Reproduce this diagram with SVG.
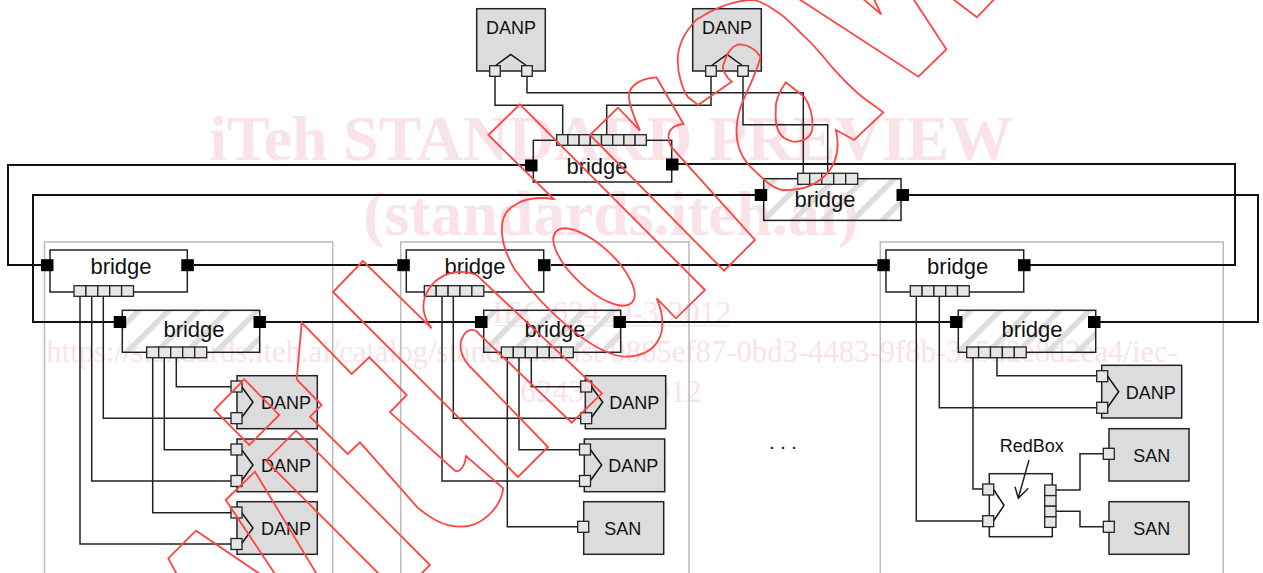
<svg xmlns="http://www.w3.org/2000/svg" width="1263" height="573" viewBox="0 0 1263 573">
<style>
text{font-family:"Liberation Sans",Arial,sans-serif;fill:#111;text-anchor:middle}
.wm text,.wm1,.wm2,.wm3{font-family:"Liberation Serif","Times New Roman",serif;fill:#f9e3e9}
.wm1{font-weight:bold;font-size:63.7px}
.wm2{font-size:30.7px}
.wm3{font-size:32px}
.fr{fill:none;stroke:#bbb;stroke-width:1.5}
.br{fill:none;stroke:#222;stroke-width:1.5}
.ht{fill:url(#hatch);stroke:#222;stroke-width:1.5}
.de{fill:#dcdcdc;stroke:#222;stroke-width:1.5}
.p{fill:#e6e6e6;stroke:#222;stroke-width:1.3}
.k{fill:#000}
.ch{fill:none;stroke:#111;stroke-width:1.5}
.c{fill:none;stroke:#222;stroke-width:1.5}
.r{fill:none;stroke:#111;stroke-width:2}
.w{fill:none;stroke:#f44;stroke-width:1.8;stroke-linejoin:miter}
.b{font-size:22px}
.t{font-size:18px}
</style>
<defs>
<pattern id="hatch" patternUnits="userSpaceOnUse" width="21" height="21" patternTransform="rotate(45)">
<rect x="0" y="0" width="5.5" height="21" fill="#ddd"/>
</pattern>
</defs>

<g class="wm" id="watermark">
<text class="wm1" x="611" y="160">iTeh STANDARD PREVIEW</text>
<text class="wm1" x="611" y="235">(standards.iteh.ai)</text>
<text class="wm3" x="612" y="323">IEC 62439-3:2012</text>
<rect x="495" y="325" width="234" height="1.5" fill="#f9e3e9"/>
<text class="wm2" x="612" y="362">https://standards.iteh.ai/catalog/standards/sist/0865ef87-0bd3-4483-9f8b-3a5d2e8d2ea4/iec-</text>
<text class="wm3" x="611" y="402">62439-3-2012</text>
</g>

<g id="frames">
<path class="fr" d="M44.5,573V242H332.7V573"/>
<path class="fr" d="M400.7,573V242H689V573"/>
<path class="fr" d="M880.3,573V242H1223.3V573"/>
</g>

<g id="connectors">
<path class="r" d="M525,165H8V265H41"/>
<path class="r" d="M678,164H1235V265H1030"/>
<path class="r" d="M755,195H33V322H114"/>
<path class="r" d="M909,195H1258V322H1100"/>
<path class="r" d="M194,265H397"/>
<path class="r" d="M551,265H877"/>
<path class="r" d="M266,322H475"/>
<path class="r" d="M626,322H950"/>
<path class="c" d="M495,76V105.3H562.7V135"/>
<path class="c" d="M527,76V92.7H803.3V173"/>
<path class="c" d="M711,76V105.3H606.7V135"/>
<path class="c" d="M743,76V124.7H827.7V173"/>
<path class="c" d="M103.3,296V418.3H231"/>
<path class="c" d="M91.7,296V481H231"/>
<path class="c" d="M80,296V544H231"/>
<path class="c" d="M176.3,358V386.7H231"/>
<path class="c" d="M164.3,358V449.7H231"/>
<path class="c" d="M152.7,358V512.7H231"/>
<path class="c" d="M453.3,296V418.3H581"/>
<path class="c" d="M442,296V481H579"/>
<path class="c" d="M531.3,358V386.7H581"/>
<path class="c" d="M519,358V449.7H579"/>
<path class="c" d="M507.3,358V526.7H578"/>
<path class="c" d="M939.3,296V407.7H1097"/>
<path class="c" d="M916.3,296V521H983"/>
<path class="c" d="M997,358V375.7H1097"/>
<path class="c" d="M973,358V489H983"/>
<path class="c" d="M1056,490H1080V453.7H1103"/>
<path class="c" d="M1056,511.3H1080V526.7H1103"/>
<path class="c" d="M1029,460L1018.3,498M1015,486.7L1018.3,498.3L1028.3,488.3"/>
</g>

<g id="danp-top-1">
<rect class="de" x="476.7" y="8.7" width="68.6" height="62.3"/>
<path class="ch" d="M495,66L510.7,54.5L527,66"/>
<rect class="p" x="489.7" y="65.7" width="10.6" height="10.6"/><rect class="p" x="521.7" y="65.7" width="10.6" height="10.6"/>
<text class="t" x="511" y="33.5">DANP</text>
</g>
<g id="danp-top-2">
<rect class="de" x="692.7" y="8.7" width="68.6" height="62.3"/>
<path class="ch" d="M711,66L727,54.5L743,66"/>
<rect class="p" x="705.7" y="65.7" width="10.6" height="10.6"/><rect class="p" x="737.7" y="65.7" width="10.6" height="10.6"/>
<text class="t" x="727" y="33.5">DANP</text>
</g>

<g id="bridge-top">
<rect class="br" x="533.3" y="140.3" width="138.4" height="41.7"/>
<g class="p"><rect x="556.7" y="134.7" width="11.2" height="10.6"/><rect x="567.9" y="134.7" width="11.2" height="10.6"/><rect x="579.1" y="134.7" width="11.2" height="10.6"/><rect x="590.3" y="134.7" width="11.2" height="10.6"/><rect x="601.5" y="134.7" width="11.2" height="10.6"/><rect x="612.7" y="134.7" width="11.2" height="10.6"/><rect x="623.9" y="134.7" width="11.2" height="10.6"/><rect x="635.1" y="134.7" width="11.2" height="10.6"/></g>
<rect class="k" x="525" y="159.5" width="12.5" height="12"/><rect class="k" x="666" y="158.5" width="12.5" height="12"/>
<text class="b" x="597" y="173.5">bridge</text>
</g>
<g id="bridge-top-hatched">
<rect class="ht" x="763.7" y="178.7" width="137.3" height="41.7"/>
<g class="p"><rect x="797.7" y="173.3" width="12" height="11"/><rect x="809.7" y="173.3" width="12" height="11"/><rect x="821.7" y="173.3" width="12" height="11"/><rect x="833.7" y="173.3" width="12" height="11"/><rect x="845.7" y="173.3" width="12" height="11"/></g>
<rect class="k" x="754.7" y="189" width="12.5" height="12"/><rect class="k" x="896.5" y="189" width="12.5" height="12"/>
<text class="b" x="825" y="207">bridge</text>
</g>

<g id="bridge-left">
<rect class="br" x="50" y="250" width="137.3" height="42"/>
<g class="p"><rect x="74" y="285.7" width="11.9" height="10.6"/><rect x="85.9" y="285.7" width="11.9" height="10.6"/><rect x="97.8" y="285.7" width="11.9" height="10.6"/><rect x="109.7" y="285.7" width="11.9" height="10.6"/><rect x="121.6" y="285.7" width="11.9" height="10.6"/></g>
<rect class="k" x="41" y="259.2" width="12.5" height="12"/><rect class="k" x="181.3" y="259.2" width="12.5" height="12"/>
<text class="b" x="121" y="273.5">bridge</text>
</g>
<g id="bridge-left-hatched">
<rect class="ht" x="122.3" y="310.3" width="137.4" height="42"/>
<g class="p"><rect x="146.7" y="347" width="12" height="10.7"/><rect x="158.7" y="347" width="12" height="10.7"/><rect x="170.7" y="347" width="12" height="10.7"/><rect x="182.7" y="347" width="12" height="10.7"/><rect x="194.7" y="347" width="12" height="10.7"/></g>
<rect class="k" x="113.7" y="316" width="12.5" height="12"/><rect class="k" x="253.5" y="316" width="12.5" height="12"/>
<text class="b" x="194" y="337">bridge</text>
</g>
<g id="danp-l1">
<rect class="de" x="237" y="375.7" width="80.3" height="53"/>
<path class="ch" d="M241.7,386.7L253,402.3L241.7,417.5"/>
<rect class="p" x="231" y="381" width="11" height="11"/><rect class="p" x="231" y="412.7" width="11" height="11"/>
<text class="t" x="286" y="409">DANP</text>
</g>
<g id="danp-l2">
<rect class="de" x="237" y="439" width="80.3" height="52.7"/>
<path class="ch" d="M241.7,449.7L253,465L241.7,480.5"/>
<rect class="p" x="231" y="444" width="11" height="11"/><rect class="p" x="231" y="475.5" width="11" height="11"/>
<text class="t" x="286" y="472">DANP</text>
</g>
<g id="danp-l3">
<rect class="de" x="237" y="501.7" width="80.3" height="52.6"/>
<path class="ch" d="M241.7,512.7L253,528L241.7,543.5"/>
<rect class="p" x="231" y="507" width="11" height="11"/><rect class="p" x="231" y="538.5" width="11" height="11"/>
<text class="t" x="286" y="534.7">DANP</text>
</g>

<g id="bridge-mid">
<rect class="br" x="406.3" y="250" width="137.4" height="42"/>
<g class="p"><rect x="424.3" y="285.7" width="11.9" height="10.6"/><rect x="436.2" y="285.7" width="11.9" height="10.6"/><rect x="448.1" y="285.7" width="11.9" height="10.6"/><rect x="460" y="285.7" width="11.9" height="10.6"/><rect x="471.9" y="285.7" width="11.9" height="10.6"/></g>
<rect class="k" x="397.3" y="259.2" width="12.5" height="12"/><rect class="k" x="538" y="259.2" width="12.5" height="12"/>
<text class="b" x="475" y="273.5">bridge</text>
</g>
<g id="bridge-mid-hatched">
<rect class="ht" x="483.7" y="310.3" width="137" height="42"/>
<g class="p"><rect x="501.3" y="347" width="12" height="10.7"/><rect x="513.3" y="347" width="12" height="10.7"/><rect x="525.3" y="347" width="12" height="10.7"/><rect x="537.3" y="347" width="12" height="10.7"/><rect x="549.3" y="347" width="12" height="10.7"/><rect x="561.3" y="347" width="12" height="10.7"/></g>
<rect class="k" x="475" y="316" width="12.5" height="12"/><rect class="k" x="613.5" y="316" width="12.5" height="12"/>
<text class="b" x="555" y="337">bridge</text>
</g>
<g id="danp-m1">
<rect class="de" x="585.3" y="375.7" width="80.4" height="53"/>
<path class="ch" d="M591.5,386.7L602.7,402.3L591.5,417.5"/>
<rect class="p" x="580.7" y="381" width="11" height="11"/><rect class="p" x="580.7" y="412.7" width="11" height="11"/>
<text class="t" x="634.3" y="409">DANP</text>
</g>
<g id="danp-m2">
<rect class="de" x="584.3" y="439" width="80.4" height="52.7"/>
<path class="ch" d="M590.5,449.7L601.7,465L590.5,480.5"/>
<rect class="p" x="579.5" y="444" width="11" height="11"/><rect class="p" x="579.5" y="475.5" width="11" height="11"/>
<text class="t" x="633.3" y="472">DANP</text>
</g>
<g id="san-m">
<rect class="de" x="583.7" y="501.7" width="80" height="52.6"/>
<rect class="p" x="577.7" y="521.3" width="11" height="11"/>
<text class="t" x="622.7" y="534.7">SAN</text>
</g>

<g id="bridge-right">
<rect class="br" x="886" y="250" width="137.7" height="42"/>
<g class="p"><rect x="910.3" y="285.7" width="11.8" height="10.6"/><rect x="922.1" y="285.7" width="11.8" height="10.6"/><rect x="933.9" y="285.7" width="11.8" height="10.6"/><rect x="945.7" y="285.7" width="11.8" height="10.6"/><rect x="957.5" y="285.7" width="11.8" height="10.6"/></g>
<rect class="k" x="877.3" y="259.2" width="12.5" height="12"/><rect class="k" x="1018" y="259.2" width="12.5" height="12"/>
<text class="b" x="957.7" y="273.5">bridge</text>
</g>
<g id="bridge-right-hatched">
<rect class="ht" x="958.3" y="310.3" width="137.4" height="42"/>
<g class="p"><rect x="966.7" y="347" width="11.9" height="10.7"/><rect x="978.6" y="347" width="11.9" height="10.7"/><rect x="990.5" y="347" width="11.9" height="10.7"/><rect x="1002.4" y="347" width="11.9" height="10.7"/><rect x="1014.3" y="347" width="11.9" height="10.7"/></g>
<rect class="k" x="950" y="316" width="12.5" height="12"/><rect class="k" x="1088" y="316" width="12.5" height="12"/>
<text class="b" x="1032" y="337">bridge</text>
</g>
<g id="danp-r">
<rect class="de" x="1101.7" y="365.3" width="80" height="52.7"/>
<path class="ch" d="M1107.5,376L1118.7,391.7L1107.5,407.5"/>
<rect class="p" x="1096.7" y="370.7" width="11" height="11"/><rect class="p" x="1096.7" y="402.3" width="11" height="11"/>
<text class="t" x="1150.7" y="398.5">DANP</text>
</g>
<g id="san-r1">
<rect class="de" x="1109" y="428.7" width="80" height="52.3"/>
<rect class="p" x="1103.3" y="448.3" width="11" height="11"/>
<text class="t" x="1151.7" y="461.7">SAN</text>
</g>
<g id="san-r2">
<rect class="de" x="1109" y="501.7" width="80" height="52.6"/>
<rect class="p" x="1103.3" y="521.3" width="11" height="11"/>
<text class="t" x="1151.7" y="534.7">SAN</text>
</g>
<g id="redbox">
<rect class="br" x="989.3" y="473.7" width="63" height="63"/>
<path class="ch" d="M993.5,489.5L1004,505.3L993.5,521"/>
<rect class="p" x="982.7" y="484" width="11" height="11"/><rect class="p" x="982.7" y="515.7" width="11" height="11"/>
<g class="p"><rect x="1044.7" y="485" width="11.3" height="10.6"/><rect x="1044.7" y="495.6" width="11.3" height="10.6"/><rect x="1044.7" y="506.2" width="11.3" height="10.6"/><rect x="1044.7" y="516.8" width="11.3" height="10.6"/></g>
<text class="t" x="1031.7" y="451.7">RedBox</text>
</g>
<text id="ellipsis" x="783" y="449" style="font-size:20px">. . .</text>

<g id="overlay-shapes">
<path class="w" d="M488.4,135L519.9,104.3L705,290L676,318.3L656.7,298.3C670,330 660,357 623,356.7C590,352 545,310 515,270C500,245 495,215 515,205C525,198 540,197 553.7,199Z"/>
<path class="w" d="M618,107.7L590,135L724,270.7L755,240L671,146.7C664,131.7 672.5,125 683.5,124L656.4,77.3C639,78.3 625,86.7 630,103.3C632,113.3 637,123.3 640,130.7Z"/>
<path class="w" d="M363,261L333,292L518,477L548,447L473.3,370C460,358 456,342 466.7,331.7C472,328 477,331 480,335L571.7,422.7L602,393.3L476.7,275C460,268 435,272 425,296.7C421,308 425,320 431.7,328.3Z"/>
<path class="w" d="M301.7,322.7L351.7,374L369.3,357.3L406.7,395L390,412.3L455,470.7C460,473 465,466 466,456L503.3,488.3C500,510 480,526.7 461.7,526.7C443,526.7 430,518 416.7,506.7L360,442.3L347.7,454L310,416.7L321.7,405L296.7,379.3Z"/>
<path class="w" d="M244.3,379.3L214.3,410L249.3,445L279.3,415Z"/>
<path class="w" d="M420,575L430,565L296,430.7L266,460.7L390,585"/>
<path class="w" d="M316.7,574L255,471.7L225.7,500L275,574"/>
<path class="w" d="M176.7,574L168.3,558.3L196,530.7L260,574"/>
<path class="w" d="M698,105L731.8,81.7C725,76 721,68 724,63.3C727,52 733,44.3 740.3,44.3C749,45 756,50 760.6,56.7C756,75 746,92 740.6,107C733.5,130 735.5,150 748.7,165C763.9,180 774,190 784.2,190C814.6,192 845,170 835.9,130L854.2,140L883.3,112.3L862,96.7C851,88 841,77 831.6,66.7C819.7,52 812.6,44 804.5,36.7C794.3,27 786.2,17 777,11.7C769,6 761.9,2 753.8,0C728.4,0 708,12 696,20C684.8,32 677.7,45 677.7,60C677.7,75 682.8,90 687.9,97Z"/>
<path class="w" d="M785.9,82.3C779,92 775,102 775.8,110C775,122 777,133 784.2,138C789.3,141 792.3,142 796,141.7C804.5,141 812.6,137 812.6,125C812.6,115 809.6,105 804.5,97Z"/>
<ellipse class="w" cx="594" cy="267" rx="52" ry="21" transform="rotate(43 594 267)"/>
<path class="w" d="M797.4,-2L918.4,76.7L946.4,49.3L912.7,-2"/>
<path class="w" d="M862,-2L881.2,14.3L873.4,-2"/>
<path class="w" d="M951.5,-2L976.9,17.3L995.4,-2"/>
</g>
</svg>
